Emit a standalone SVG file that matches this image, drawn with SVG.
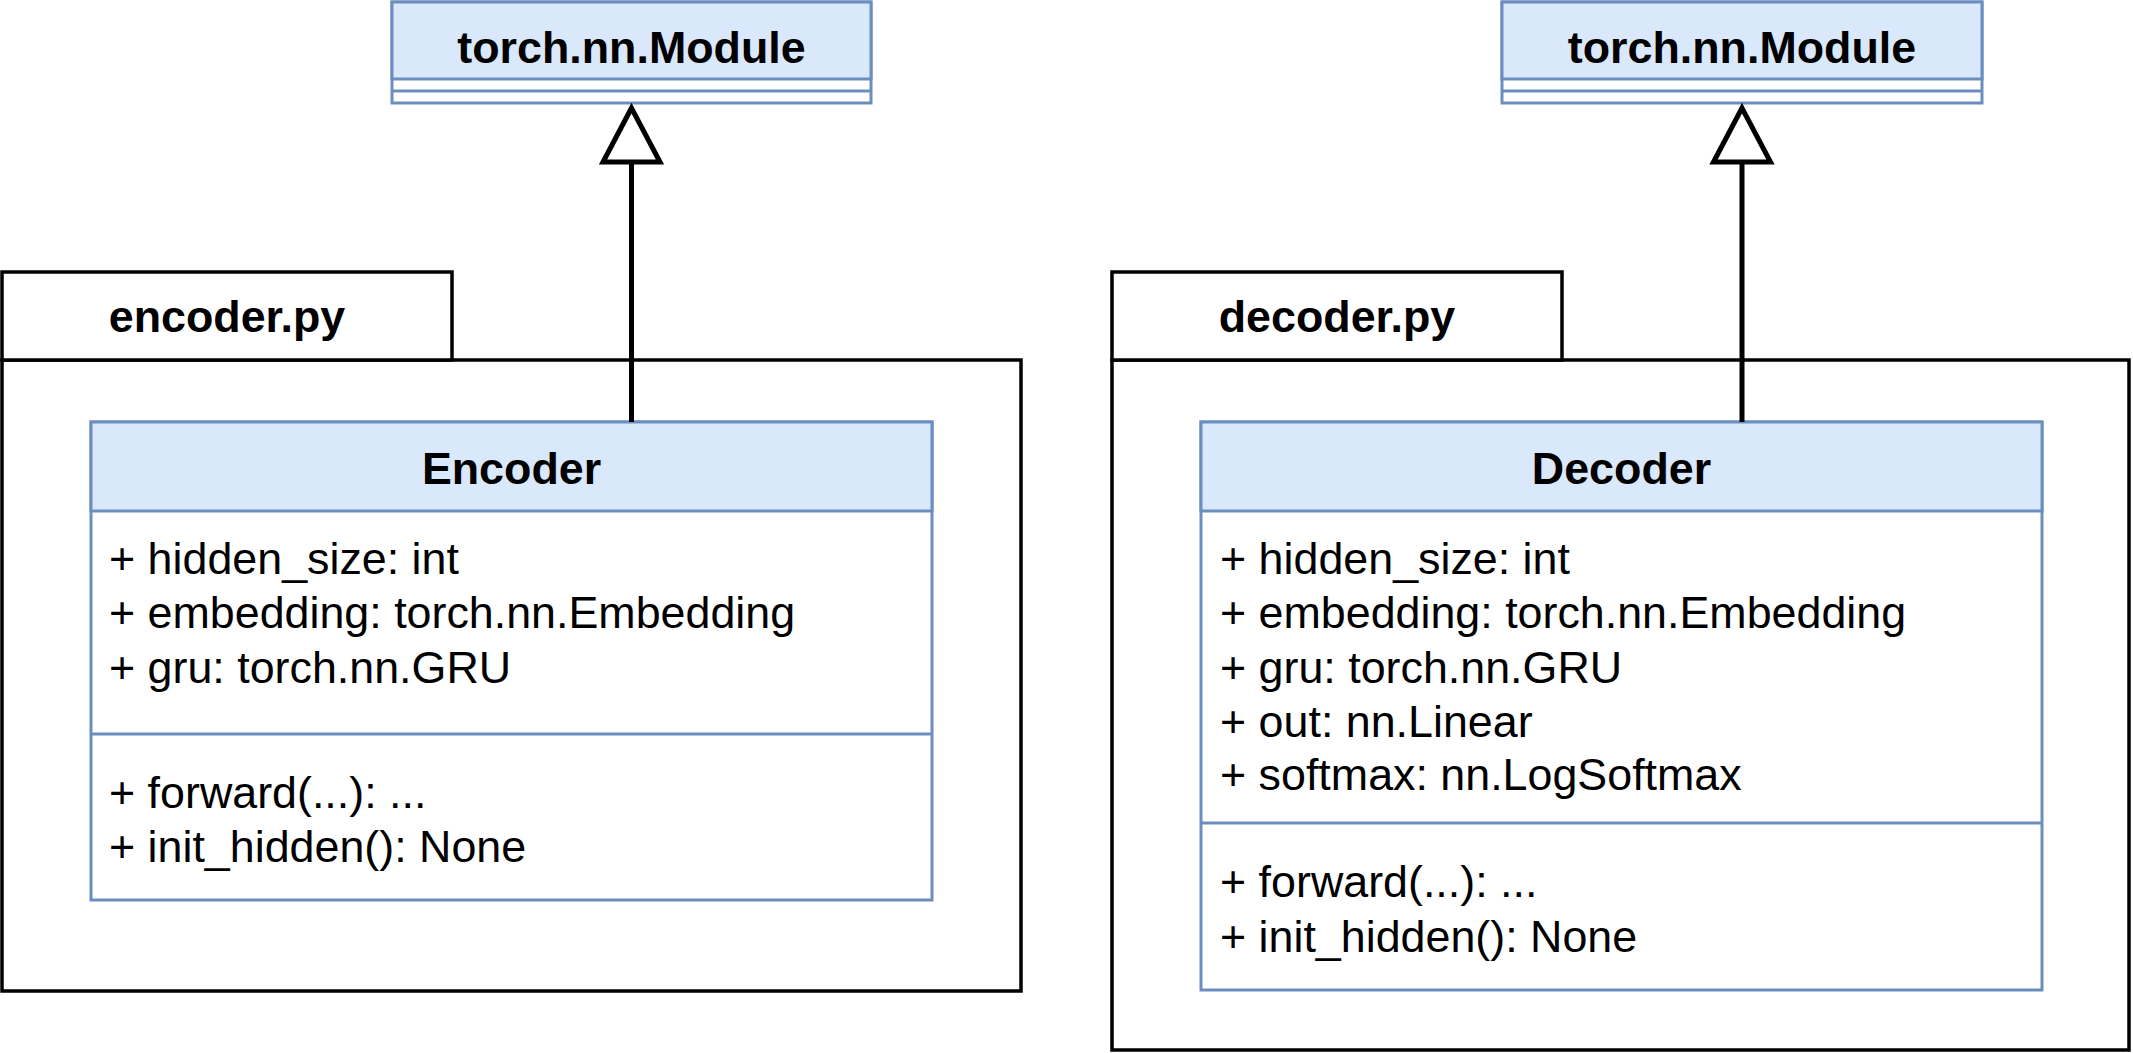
<svg xmlns="http://www.w3.org/2000/svg" width="2133" height="1053" viewBox="0 0 2133 1053">
<style>
.pkg{fill:#ffffff;stroke:#000000;stroke-width:3.5}
.hdr{fill:#dae8fc;stroke:#6c8ebf;stroke-width:3}
.body{fill:#ffffff;stroke:#6c8ebf;stroke-width:3}
.sep{stroke:#6c8ebf;stroke-width:3}
.t{font-family:"Liberation Sans",Arial,sans-serif;font-size:44.8px;fill:#000000}
.b{font-weight:bold;text-anchor:middle}
.conn{stroke:#000000;stroke-width:5;fill:none}
.tri{fill:#ffffff;stroke:#000000;stroke-width:5;stroke-linejoin:miter}
</style>
<rect width="2133" height="1053" fill="#ffffff"/>
<g id="encoder-package">
<rect class="pkg" x="2" y="360" width="1019" height="631"/>
<rect class="pkg" x="2" y="272" width="450" height="88"/>
<text class="t b" x="227" y="332">encoder.py</text>
</g>
<g id="decoder-package">
<rect class="pkg" x="1112" y="360" width="1017" height="690"/>
<rect class="pkg" x="1112" y="272" width="450" height="88"/>
<text class="t b" x="1337" y="332">decoder.py</text>
</g>
<g id="module-left">
<rect class="body" x="392" y="2" width="479" height="101"/>
<rect class="hdr" x="392" y="2" width="479" height="77"/>
<line class="sep" x1="392" y1="91" x2="871" y2="91"/>
<text class="t b" x="631.5" y="63">torch.nn.Module</text>
</g>
<g id="module-right">
<rect class="body" x="1502" y="2" width="480" height="101"/>
<rect class="hdr" x="1502" y="2" width="480" height="77"/>
<line class="sep" x1="1502" y1="91" x2="1982" y2="91"/>
<text class="t b" x="1742" y="63">torch.nn.Module</text>
</g>
<g id="encoder-class">
<rect class="body" x="91" y="422" width="841" height="478"/>
<rect class="hdr" x="91" y="422" width="841" height="89"/>
<line class="sep" x1="91" y1="734" x2="932" y2="734"/>
<text class="t b" x="511.5" y="484">Encoder</text>
<text class="t" x="109" y="574">+ hidden_size: int</text>
<text class="t" x="109" y="628">+ embedding: torch.nn.Embedding</text>
<text class="t" x="109" y="683">+ gru: torch.nn.GRU</text>
<text class="t" x="109" y="808">+ forward(...): ...</text>
<text class="t" x="109" y="862">+ init_hidden(): None</text>
</g>
<g id="decoder-class">
<rect class="body" x="1201" y="422" width="841" height="568"/>
<rect class="hdr" x="1201" y="422" width="841" height="89"/>
<line class="sep" x1="1201" y1="823" x2="2042" y2="823"/>
<text class="t b" x="1621.5" y="484">Decoder</text>
<text class="t" x="1220" y="574">+ hidden_size: int</text>
<text class="t" x="1220" y="628">+ embedding: torch.nn.Embedding</text>
<text class="t" x="1220" y="683">+ gru: torch.nn.GRU</text>
<text class="t" x="1220" y="737">+ out: nn.Linear</text>
<text class="t" x="1220" y="790">+ softmax: nn.LogSoftmax</text>
<text class="t" x="1220" y="897">+ forward(...): ...</text>
<text class="t" x="1220" y="952">+ init_hidden(): None</text>
</g>
<g id="connectors">
<line class="conn" x1="631.5" y1="422" x2="631.5" y2="163"/>
<polygon class="tri" points="631.5,108 603,162 660,162"/>
<line class="conn" x1="1742" y1="422" x2="1742" y2="163"/>
<polygon class="tri" points="1742,108 1713.5,162 1770.5,162"/>
</g>
</svg>
